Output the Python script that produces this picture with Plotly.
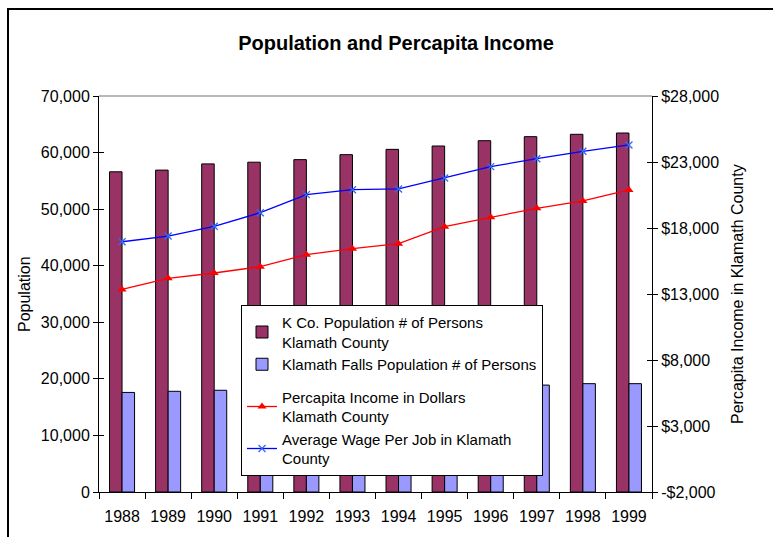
import plotly.graph_objects as go

years = ["1988", "1989", "1990", "1991", "1992", "1993", "1994", "1995", "1996", "1997", "1998", "1999"]
kco_pop = [56600, 56900, 58000, 58300, 58750, 59630, 60570, 61160, 62100, 62810, 63230, 63460]
kf_pop = [17600, 17800, 17980, 18100, 18300, 18500, 18600, 18700, 18800, 18900, 19150, 19150]
percapita = [13350, 14190, 14590, 15070, 15980, 16430, 16810, 18100, 18810, 19490, 20050, 20880]
avg_wage = [16960, 17390, 18130, 19160, 20530, 20900, 20960, 21790, 22650, 23250, 23810, 24290]

y2_vals = [-2000, 3000, 8000, 13000, 18000, 23000, 28000]
y2_text = ["-$2,000", "$3,000", "$8,000", "$13,000", "$18,000", "$23,000", "$28,000"]

FONT = "Liberation Sans, Arial, sans-serif"
FS = 16
LFS = 15

fig = go.Figure()
fig.add_trace(go.Bar(x=years, y=kco_pop, name="K Co. Population # of Persons<br>Klamath County",
                     marker=dict(color="#993366", line=dict(color="black", width=1)),
                     legendgroup="bars"))
fig.add_trace(go.Bar(x=years, y=kf_pop, name="Klamath Falls Population # of Persons",
                     marker=dict(color="#9999FF", line=dict(color="black", width=1)),
                     legendgroup="bars"))
fig.add_trace(go.Scatter(x=years, y=percapita, yaxis="y2", mode="lines+markers",
                         name="Percapita Income in Dollars<br>Klamath County",
                         line=dict(color="#FF0000", width=1.3),
                         marker=dict(symbol="triangle-up", size=8, color="#FF0000"),
                         legendgroup="lines"))
fig.add_trace(go.Scatter(x=years, y=avg_wage, yaxis="y2", mode="lines+markers",
                         name="Average Wage Per Job in Klamath<br>County",
                         line=dict(color="#0000FF", width=1.3),
                         marker=dict(symbol="x-thin", size=7, color="#3366FF",
                                     line=dict(color="#3366FF", width=1.3)),
                         legendgroup="lines"))
# empty helper traces so the inner-tick axes get drawn
fig.add_trace(go.Scatter(x=[], y=[], yaxis="y3", showlegend=False, hoverinfo="skip"))
fig.add_trace(go.Scatter(x=[], y=[], yaxis="y4", showlegend=False, hoverinfo="skip"))

fig.update_layout(
    width=773, height=537,
    margin=dict(l=99, r=121, t=96, b=45),
    paper_bgcolor="white", plot_bgcolor="white",
    font=dict(family=FONT, size=FS, color="black"),
    barmode="group", bargap=0.457, bargroupgap=0,
    showlegend=True,
    legend=dict(x=(241 - 99) / 553, y=(492 - 305) / 396, xanchor="left", yanchor="top",
                bgcolor="white", bordercolor="black", borderwidth=1,
                font=dict(family=FONT, size=LFS), traceorder="grouped",
                tracegroupgap=10, itemwidth=30),
    title=dict(text="<b>Population and Percapita Income</b>", x=396 / 773, xref="container",
               xanchor="center", y=1 - 43 / 537, yref="container", yanchor="middle",
               font=dict(family=FONT, size=20, color="black")),
    xaxis=dict(type="category", range=[-0.5, 11.5], showline=True, linecolor="black",
               linewidth=1, ticks="outside", tickson="boundaries", ticklen=6,
               tickcolor="black", showgrid=False, zeroline=False, automargin=False,
               ticklabelstandoff=10, tickfont=dict(size=FS)),
    yaxis=dict(range=[0, 70000], dtick=10000, tickformat=",", showline=True,
               linecolor="black", linewidth=1, ticks="outside", ticklen=5,
               tickcolor="black", showgrid=False, zeroline=False, automargin=False,
               tickfont=dict(size=FS)),
    yaxis2=dict(range=[-2000, 28000], tickvals=y2_vals, ticktext=y2_text,
                overlaying="y", side="right", showline=True, linecolor="black",
                linewidth=1, ticks="outside", ticklen=5, tickcolor="black",
                showgrid=False, zeroline=False, automargin=False, tickfont=dict(size=FS)),
    yaxis3=dict(range=[0, 70000], dtick=10000, overlaying="y", side="left",
                showticklabels=False, ticks="inside", ticklen=5, tickcolor="black",
                showline=False, showgrid=False, zeroline=False, automargin=False),
    yaxis4=dict(range=[-2000, 28000], tickvals=y2_vals, overlaying="y", side="right",
                showticklabels=False, ticks="inside", ticklen=5, tickcolor="black",
                showline=False, showgrid=False, zeroline=False, automargin=False),
    shapes=[
        dict(type="line", xref="paper", yref="paper", x0=0, x1=1, y0=1, y1=1,
             line=dict(color="#A0A0A0", width=1.5)),
        dict(type="rect", xref="paper", yref="paper", x0=(8 - 99) / 553, x1=1.4,
             y0=-0.3, y1=(492 - 9) / 396, line=dict(color="black", width=2),
             fillcolor="rgba(0,0,0,0)", layer="below"),
    ],
    annotations=[
        dict(text="Population", xref="paper", yref="paper", x=(24 - 99) / 553, y=0.5,
             textangle=-90, showarrow=False, xanchor="center", yanchor="middle",
             font=dict(family=FONT, size=FS)),
        dict(text="Percapita Income in Klamath County", xref="paper", yref="paper",
             x=(737 - 99) / 553, y=0.5, textangle=-90, showarrow=False,
             xanchor="center", yanchor="middle", font=dict(family=FONT, size=FS)),
    ],
)

fig.write_html("out.html")
